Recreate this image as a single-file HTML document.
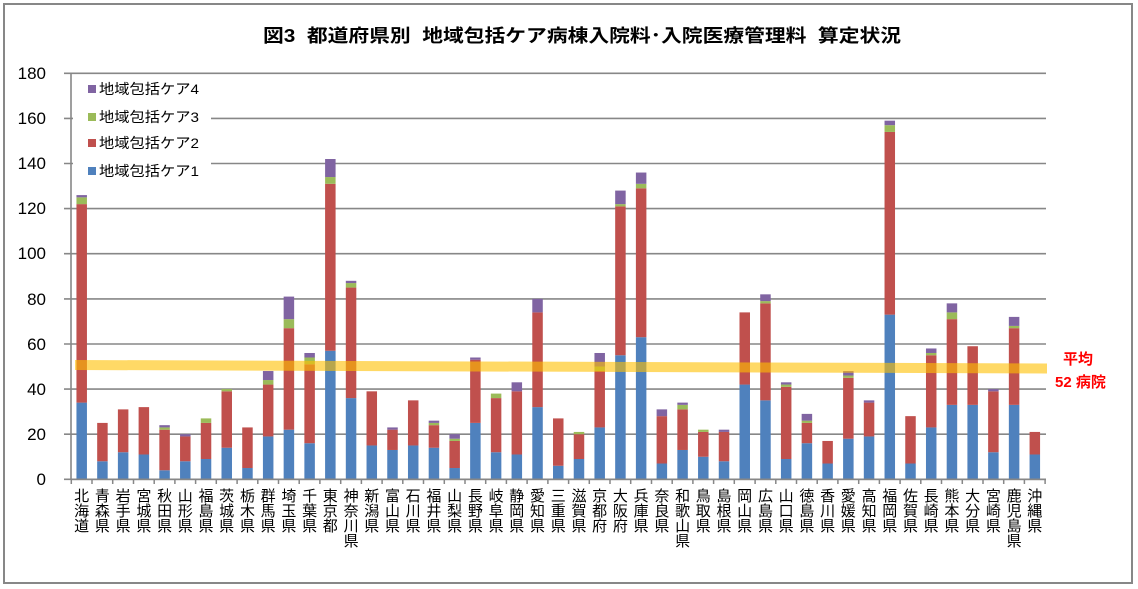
<!DOCTYPE html>
<html><head><meta charset="utf-8"><style>
body{margin:0;background:#fff;}
#w{position:relative;width:1138px;height:589px;overflow:hidden;font-family:"Liberation Sans","Noto Sans CJK JP",sans-serif;}
.l{position:absolute;top:489px;width:16px;font-size:15px;line-height:15px;text-align:center;color:#000;word-break:break-all;}
</style></head><body><div id="w">
<svg width="1138" height="589" style="position:absolute;left:0;top:0">
<rect x="4" y="4" width="1128" height="579" fill="#fff" stroke="#878787" stroke-width="2"/>
<text x="582" y="42" text-anchor="middle" font-size="18" font-weight="bold" textLength="638" lengthAdjust="spacingAndGlyphs" font-family="Liberation Sans,Noto Sans CJK JP,sans-serif">図3&#160;&#160;都道府県別&#160;&#160;地域包括ケア病棟入院料･入院医療管理料&#160;&#160;算定状況</text>
<g stroke="#878787" stroke-width="1.6">
<line x1="64" y1="73.3" x2="1046" y2="73.3"/><line x1="64" y1="118.4" x2="1046" y2="118.4"/><line x1="64" y1="163.5" x2="1046" y2="163.5"/><line x1="64" y1="208.6" x2="1046" y2="208.6"/><line x1="64" y1="253.7" x2="1046" y2="253.7"/><line x1="64" y1="298.9" x2="1046" y2="298.9"/><line x1="64" y1="344" x2="1046" y2="344"/><line x1="64" y1="389.1" x2="1046" y2="389.1"/><line x1="64" y1="434.2" x2="1046" y2="434.2"/><line x1="64" y1="479.3" x2="1046" y2="479.3"/>
<line x1="71" y1="73" x2="71" y2="480"/>
</g>
<g font-size="17" text-anchor="end" fill="#000">
<text x="46" y="79">180</text><text x="46" y="124">160</text><text x="46" y="169">140</text><text x="46" y="214">120</text><text x="46" y="259">100</text><text x="46" y="305">80</text><text x="46" y="350">60</text><text x="46" y="395">40</text><text x="46" y="440">20</text><text x="46" y="485">0</text>
</g>
<rect x="73" y="76" width="138" height="112" fill="#fff"/>
<g font-size="14">
<rect x="88" y="85" width="8" height="8" fill="#8064A2"/><text x="99" y="94" textLength="100" lengthAdjust="spacingAndGlyphs">地域包括ケア4</text>
<rect x="88" y="113" width="8" height="8" fill="#9BBB59"/><text x="99" y="122" textLength="100" lengthAdjust="spacingAndGlyphs">地域包括ケア3</text>
<rect x="88" y="139" width="8" height="8" fill="#C0504D"/><text x="99" y="148" textLength="100" lengthAdjust="spacingAndGlyphs">地域包括ケア2</text>
<rect x="88" y="167" width="8" height="8" fill="#4F81BD"/><text x="99" y="176" textLength="100" lengthAdjust="spacingAndGlyphs">地域包括ケア1</text>
</g>
<g transform="translate(0,479.3) scale(1,-2.2556)">
<g transform="translate(76.45,0)"><rect width="10.5" y="0" height="34" fill="#4F81BD"/><rect width="10.5" y="34" height="88" fill="#C0504D"/><rect width="10.5" y="122" height="3" fill="#9BBB59"/><rect width="10.5" y="125" height="1" fill="#8064A2"/></g>
<g transform="translate(97.17,0)"><rect width="10.5" y="0" height="8" fill="#4F81BD"/><rect width="10.5" y="8" height="17" fill="#C0504D"/></g>
<g transform="translate(117.89,0)"><rect width="10.5" y="0" height="12" fill="#4F81BD"/><rect width="10.5" y="12" height="19" fill="#C0504D"/></g>
<g transform="translate(138.61,0)"><rect width="10.5" y="0" height="11" fill="#4F81BD"/><rect width="10.5" y="11" height="21" fill="#C0504D"/></g>
<g transform="translate(159.33,0)"><rect width="10.5" y="0" height="4" fill="#4F81BD"/><rect width="10.5" y="4" height="18" fill="#C0504D"/><rect width="10.5" y="22" height="1" fill="#9BBB59"/><rect width="10.5" y="23" height="1" fill="#8064A2"/></g>
<g transform="translate(180.05,0)"><rect width="10.5" y="0" height="8" fill="#4F81BD"/><rect width="10.5" y="8" height="11" fill="#C0504D"/><rect width="10.5" y="19" height="1" fill="#8064A2"/></g>
<g transform="translate(200.77,0)"><rect width="10.5" y="0" height="9" fill="#4F81BD"/><rect width="10.5" y="9" height="16" fill="#C0504D"/><rect width="10.5" y="25" height="2" fill="#9BBB59"/></g>
<g transform="translate(221.49,0)"><rect width="10.5" y="0" height="14" fill="#4F81BD"/><rect width="10.5" y="14" height="25" fill="#C0504D"/><rect width="10.5" y="39" height="1" fill="#9BBB59"/></g>
<g transform="translate(242.21,0)"><rect width="10.5" y="0" height="5" fill="#4F81BD"/><rect width="10.5" y="5" height="18" fill="#C0504D"/></g>
<g transform="translate(262.93,0)"><rect width="10.5" y="0" height="19" fill="#4F81BD"/><rect width="10.5" y="19" height="23" fill="#C0504D"/><rect width="10.5" y="42" height="2" fill="#9BBB59"/><rect width="10.5" y="44" height="4" fill="#8064A2"/></g>
<g transform="translate(283.65,0)"><rect width="10.5" y="0" height="22" fill="#4F81BD"/><rect width="10.5" y="22" height="45" fill="#C0504D"/><rect width="10.5" y="67" height="4" fill="#9BBB59"/><rect width="10.5" y="71" height="10" fill="#8064A2"/></g>
<g transform="translate(304.37,0)"><rect width="10.5" y="0" height="16" fill="#4F81BD"/><rect width="10.5" y="16" height="35" fill="#C0504D"/><rect width="10.5" y="51" height="3" fill="#9BBB59"/><rect width="10.5" y="54" height="2" fill="#8064A2"/></g>
<g transform="translate(325.09,0)"><rect width="10.5" y="0" height="57" fill="#4F81BD"/><rect width="10.5" y="57" height="74" fill="#C0504D"/><rect width="10.5" y="131" height="3" fill="#9BBB59"/><rect width="10.5" y="134" height="8" fill="#8064A2"/></g>
<g transform="translate(345.81,0)"><rect width="10.5" y="0" height="36" fill="#4F81BD"/><rect width="10.5" y="36" height="49" fill="#C0504D"/><rect width="10.5" y="85" height="2" fill="#9BBB59"/><rect width="10.5" y="87" height="1" fill="#8064A2"/></g>
<g transform="translate(366.53,0)"><rect width="10.5" y="0" height="15" fill="#4F81BD"/><rect width="10.5" y="15" height="24" fill="#C0504D"/></g>
<g transform="translate(387.25,0)"><rect width="10.5" y="0" height="13" fill="#4F81BD"/><rect width="10.5" y="13" height="9" fill="#C0504D"/><rect width="10.5" y="22" height="1" fill="#8064A2"/></g>
<g transform="translate(407.97,0)"><rect width="10.5" y="0" height="15" fill="#4F81BD"/><rect width="10.5" y="15" height="20" fill="#C0504D"/></g>
<g transform="translate(428.69,0)"><rect width="10.5" y="0" height="14" fill="#4F81BD"/><rect width="10.5" y="14" height="10" fill="#C0504D"/><rect width="10.5" y="24" height="1" fill="#9BBB59"/><rect width="10.5" y="25" height="1" fill="#8064A2"/></g>
<g transform="translate(449.41,0)"><rect width="10.5" y="0" height="5" fill="#4F81BD"/><rect width="10.5" y="5" height="12" fill="#C0504D"/><rect width="10.5" y="17" height="1" fill="#9BBB59"/><rect width="10.5" y="18" height="2" fill="#8064A2"/></g>
<g transform="translate(470.13,0)"><rect width="10.5" y="0" height="25" fill="#4F81BD"/><rect width="10.5" y="25" height="28" fill="#C0504D"/><rect width="10.5" y="53" height="1" fill="#8064A2"/></g>
<g transform="translate(490.85,0)"><rect width="10.5" y="0" height="12" fill="#4F81BD"/><rect width="10.5" y="12" height="24" fill="#C0504D"/><rect width="10.5" y="36" height="2" fill="#9BBB59"/></g>
<g transform="translate(511.57,0)"><rect width="10.5" y="0" height="11" fill="#4F81BD"/><rect width="10.5" y="11" height="28" fill="#C0504D"/><rect width="10.5" y="39" height="4" fill="#8064A2"/></g>
<g transform="translate(532.29,0)"><rect width="10.5" y="0" height="32" fill="#4F81BD"/><rect width="10.5" y="32" height="42" fill="#C0504D"/><rect width="10.5" y="74" height="6" fill="#8064A2"/></g>
<g transform="translate(553.01,0)"><rect width="10.5" y="0" height="6" fill="#4F81BD"/><rect width="10.5" y="6" height="21" fill="#C0504D"/></g>
<g transform="translate(573.73,0)"><rect width="10.5" y="0" height="9" fill="#4F81BD"/><rect width="10.5" y="9" height="11" fill="#C0504D"/><rect width="10.5" y="20" height="1" fill="#9BBB59"/></g>
<g transform="translate(594.45,0)"><rect width="10.5" y="0" height="23" fill="#4F81BD"/><rect width="10.5" y="23" height="25" fill="#C0504D"/><rect width="10.5" y="48" height="2" fill="#9BBB59"/><rect width="10.5" y="50" height="6" fill="#8064A2"/></g>
<g transform="translate(615.17,0)"><rect width="10.5" y="0" height="55" fill="#4F81BD"/><rect width="10.5" y="55" height="66" fill="#C0504D"/><rect width="10.5" y="121" height="1" fill="#9BBB59"/><rect width="10.5" y="122" height="6" fill="#8064A2"/></g>
<g transform="translate(635.89,0)"><rect width="10.5" y="0" height="63" fill="#4F81BD"/><rect width="10.5" y="63" height="66" fill="#C0504D"/><rect width="10.5" y="129" height="2" fill="#9BBB59"/><rect width="10.5" y="131" height="5" fill="#8064A2"/></g>
<g transform="translate(656.61,0)"><rect width="10.5" y="0" height="7" fill="#4F81BD"/><rect width="10.5" y="7" height="21" fill="#C0504D"/><rect width="10.5" y="28" height="3" fill="#8064A2"/></g>
<g transform="translate(677.33,0)"><rect width="10.5" y="0" height="13" fill="#4F81BD"/><rect width="10.5" y="13" height="18" fill="#C0504D"/><rect width="10.5" y="31" height="2" fill="#9BBB59"/><rect width="10.5" y="33" height="1" fill="#8064A2"/></g>
<g transform="translate(698.05,0)"><rect width="10.5" y="0" height="10" fill="#4F81BD"/><rect width="10.5" y="10" height="11" fill="#C0504D"/><rect width="10.5" y="21" height="1" fill="#9BBB59"/></g>
<g transform="translate(718.77,0)"><rect width="10.5" y="0" height="8" fill="#4F81BD"/><rect width="10.5" y="8" height="13" fill="#C0504D"/><rect width="10.5" y="21" height="1" fill="#8064A2"/></g>
<g transform="translate(739.49,0)"><rect width="10.5" y="0" height="42" fill="#4F81BD"/><rect width="10.5" y="42" height="32" fill="#C0504D"/></g>
<g transform="translate(760.21,0)"><rect width="10.5" y="0" height="35" fill="#4F81BD"/><rect width="10.5" y="35" height="43" fill="#C0504D"/><rect width="10.5" y="78" height="1" fill="#9BBB59"/><rect width="10.5" y="79" height="3" fill="#8064A2"/></g>
<g transform="translate(780.93,0)"><rect width="10.5" y="0" height="9" fill="#4F81BD"/><rect width="10.5" y="9" height="32" fill="#C0504D"/><rect width="10.5" y="41" height="1" fill="#9BBB59"/><rect width="10.5" y="42" height="1" fill="#8064A2"/></g>
<g transform="translate(801.65,0)"><rect width="10.5" y="0" height="16" fill="#4F81BD"/><rect width="10.5" y="16" height="9" fill="#C0504D"/><rect width="10.5" y="25" height="1" fill="#9BBB59"/><rect width="10.5" y="26" height="3" fill="#8064A2"/></g>
<g transform="translate(822.37,0)"><rect width="10.5" y="0" height="7" fill="#4F81BD"/><rect width="10.5" y="7" height="10" fill="#C0504D"/></g>
<g transform="translate(843.09,0)"><rect width="10.5" y="0" height="18" fill="#4F81BD"/><rect width="10.5" y="18" height="27" fill="#C0504D"/><rect width="10.5" y="45" height="1" fill="#9BBB59"/><rect width="10.5" y="46" height="2" fill="#8064A2"/></g>
<g transform="translate(863.81,0)"><rect width="10.5" y="0" height="19" fill="#4F81BD"/><rect width="10.5" y="19" height="15" fill="#C0504D"/><rect width="10.5" y="34" height="1" fill="#8064A2"/></g>
<g transform="translate(884.53,0)"><rect width="10.5" y="0" height="73" fill="#4F81BD"/><rect width="10.5" y="73" height="81" fill="#C0504D"/><rect width="10.5" y="154" height="3" fill="#9BBB59"/><rect width="10.5" y="157" height="2" fill="#8064A2"/></g>
<g transform="translate(905.25,0)"><rect width="10.5" y="0" height="7" fill="#4F81BD"/><rect width="10.5" y="7" height="21" fill="#C0504D"/></g>
<g transform="translate(925.97,0)"><rect width="10.5" y="0" height="23" fill="#4F81BD"/><rect width="10.5" y="23" height="32" fill="#C0504D"/><rect width="10.5" y="55" height="1" fill="#9BBB59"/><rect width="10.5" y="56" height="2" fill="#8064A2"/></g>
<g transform="translate(946.69,0)"><rect width="10.5" y="0" height="33" fill="#4F81BD"/><rect width="10.5" y="33" height="38" fill="#C0504D"/><rect width="10.5" y="71" height="3" fill="#9BBB59"/><rect width="10.5" y="74" height="4" fill="#8064A2"/></g>
<g transform="translate(967.41,0)"><rect width="10.5" y="0" height="33" fill="#4F81BD"/><rect width="10.5" y="33" height="26" fill="#C0504D"/></g>
<g transform="translate(988.13,0)"><rect width="10.5" y="0" height="12" fill="#4F81BD"/><rect width="10.5" y="12" height="27" fill="#C0504D"/><rect width="10.5" y="39" height="1" fill="#8064A2"/></g>
<g transform="translate(1008.85,0)"><rect width="10.5" y="0" height="33" fill="#4F81BD"/><rect width="10.5" y="33" height="34" fill="#C0504D"/><rect width="10.5" y="67" height="1" fill="#9BBB59"/><rect width="10.5" y="68" height="4" fill="#8064A2"/></g>
<g transform="translate(1029.57,0)"><rect width="10.5" y="0" height="11" fill="#4F81BD"/><rect width="10.5" y="11" height="10" fill="#C0504D"/></g>
</g>
<g stroke="#878787" stroke-width="1.6">
<line x1="71" y1="479.3" x2="1046" y2="479.3"/>
</g>
<path d="M71.3 479v5 M92 479v5 M112.7 479v5 M133.5 479v5 M154.2 479v5 M174.9 479v5 M195.6 479v5 M216.3 479v5 M237.1 479v5 M257.8 479v5 M278.5 479v5 M299.2 479v5 M319.9 479v5 M340.7 479v5 M361.4 479v5 M382.1 479v5 M402.8 479v5 M423.5 479v5 M444.3 479v5 M465 479v5 M485.7 479v5 M506.4 479v5 M527.1 479v5 M547.9 479v5 M568.6 479v5 M589.3 479v5 M610 479v5 M630.7 479v5 M651.5 479v5 M672.2 479v5 M692.9 479v5 M713.6 479v5 M734.3 479v5 M755.1 479v5 M775.8 479v5 M796.5 479v5 M817.2 479v5 M837.9 479v5 M858.7 479v5 M879.4 479v5 M900.1 479v5 M920.8 479v5 M941.5 479v5 M962.3 479v5 M983 479v5 M1003.7 479v5 M1024.4 479v5 M1045.1 479v5" stroke="#878787" stroke-width="1.5"/>
<polygon points="75,360 1047,363.5 1047,373.5 75,370" fill="rgba(255,192,0,0.6)"/>
<g fill="#FF0000" font-size="15" font-weight="bold" font-family="Liberation Sans,Noto Sans CJK JP,sans-serif">
<text x="1063" y="364">平均</text>
<text x="1055" y="387">52 病院</text>
</g>
</svg>
<div class="l" style="left:73.7px">北海道</div>
<div class="l" style="left:94.4px">青森県</div>
<div class="l" style="left:115.1px">岩手県</div>
<div class="l" style="left:135.9px">宮城県</div>
<div class="l" style="left:156.6px">秋田県</div>
<div class="l" style="left:177.3px">山形県</div>
<div class="l" style="left:198px">福島県</div>
<div class="l" style="left:218.7px">茨城県</div>
<div class="l" style="left:239.5px">栃木県</div>
<div class="l" style="left:260.2px">群馬県</div>
<div class="l" style="left:280.9px">埼玉県</div>
<div class="l" style="left:301.6px">千葉県</div>
<div class="l" style="left:322.3px">東京都</div>
<div class="l" style="left:343.1px">神奈川県</div>
<div class="l" style="left:363.8px">新潟県</div>
<div class="l" style="left:384.5px">富山県</div>
<div class="l" style="left:405.2px">石川県</div>
<div class="l" style="left:425.9px">福井県</div>
<div class="l" style="left:446.7px">山梨県</div>
<div class="l" style="left:467.4px">長野県</div>
<div class="l" style="left:488.1px">岐阜県</div>
<div class="l" style="left:508.8px">静岡県</div>
<div class="l" style="left:529.5px">愛知県</div>
<div class="l" style="left:550.3px">三重県</div>
<div class="l" style="left:571px">滋賀県</div>
<div class="l" style="left:591.7px">京都府</div>
<div class="l" style="left:612.4px">大阪府</div>
<div class="l" style="left:633.1px">兵庫県</div>
<div class="l" style="left:653.9px">奈良県</div>
<div class="l" style="left:674.6px">和歌山県</div>
<div class="l" style="left:695.3px">鳥取県</div>
<div class="l" style="left:716px">島根県</div>
<div class="l" style="left:736.7px">岡山県</div>
<div class="l" style="left:757.5px">広島県</div>
<div class="l" style="left:778.2px">山口県</div>
<div class="l" style="left:798.9px">徳島県</div>
<div class="l" style="left:819.6px">香川県</div>
<div class="l" style="left:840.3px">愛媛県</div>
<div class="l" style="left:861.1px">高知県</div>
<div class="l" style="left:881.8px">福岡県</div>
<div class="l" style="left:902.5px">佐賀県</div>
<div class="l" style="left:923.2px">長崎県</div>
<div class="l" style="left:943.9px">熊本県</div>
<div class="l" style="left:964.7px">大分県</div>
<div class="l" style="left:985.4px">宮崎県</div>
<div class="l" style="left:1006.1px">鹿児島県</div>
<div class="l" style="left:1026.8px">沖縄県</div>
</div></body></html>
